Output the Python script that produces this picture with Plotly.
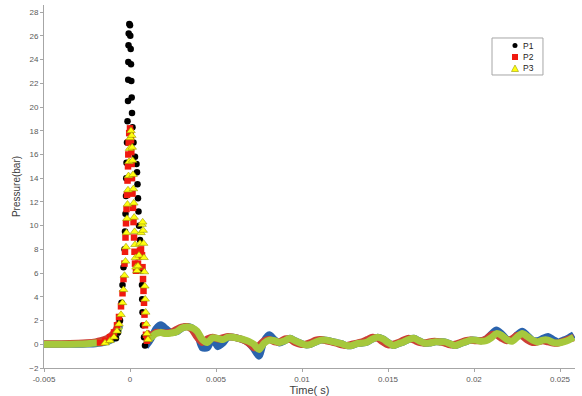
import numpy as np
import plotly.graph_objects as go

# ---------------- data (time in ms, pressure in bar) ----------------
pre_t_ms = [-5.0, -4.0, -3.0, -2.5, -2.0, -1.7, -1.4, -1.2, -1.0, -0.8, -0.6]
p1_pre = [0.0, 0.0, 0.0, 0.02, 0.05, 0.1, 0.2, 0.3, 0.45, 0.8, 1.6]
p2_pre = [0.05, 0.05, 0.08, 0.12, 0.2, 0.3, 0.45, 0.6, 0.85, 1.25, 2.0]
p3_pre = [0.0, 0.0, 0.02, 0.05, 0.1, 0.15, 0.25, 0.35, 0.55, 0.9, 1.5]

tail_t_ms = [1.2, 1.5, 1.8, 2.1, 2.4, 2.7, 3.0, 3.3, 3.6, 3.9,
             4.2, 4.5, 4.8, 5.1, 5.4, 5.7, 6.0, 6.3, 6.6, 6.9,
             7.2, 7.5, 7.8, 8.1, 8.4, 8.7, 9.0, 9.3, 9.6, 9.9,
             10.2, 10.5, 10.8, 11.1, 11.4, 11.7, 12.0, 12.3, 12.6, 12.9,
             13.2, 13.5, 13.8, 14.1, 14.4, 14.7, 15.0, 15.3, 15.6, 15.9,
             16.2, 16.5, 16.8, 17.1, 17.4, 17.7, 18.0, 18.3, 18.6, 18.9,
             19.2, 19.5, 19.8, 20.1, 20.4, 20.7, 21.0, 21.3, 21.6, 21.9,
             22.2, 22.5, 22.8, 23.1, 23.4, 23.7, 24.0, 24.3, 24.6, 24.9,
             25.2, 25.5, 25.8]

p1_tail = [0.4, 1.3, 1.65, 1.3, 1.0, 1.05, 1.35, 1.5, 1.4, 0.9,
           -0.3, -0.3, 0.5, -0.2, 0.1, 0.6, 0.6, 0.5, 0.35, 0.1,
           -0.4, -1.0, 0.3, 0.8, 0.4, 0.1, 0.3, 0.5, 0.3, 0.1,
           -0.05, 0.0, 0.2, 0.35, 0.35, 0.25, 0.15, 0.05, -0.1, -0.1,
           0.05, 0.1, 0.2, 0.45, 0.6, 0.45, 0.15, -0.1, 0.05, 0.2,
           0.4, 0.5, 0.3, 0.1, 0.1, 0.2, 0.2, 0.2, 0.05, -0.1,
           0.05, 0.2, 0.35, 0.35, 0.3, 0.45, 0.85, 1.2, 0.9, 0.45,
           0.35, 0.8, 1.1, 0.75, 0.35, 0.3, 0.5, 0.65, 0.4, 0.2,
           0.35, 0.55, 0.8]
p2_tail = [0.75, 1.0, 1.0, 0.95, 1.0, 1.25, 1.45, 1.5, 1.25, 0.6,
           0.15, 0.45, 0.6, 0.45, 0.55, 0.65, 0.6, 0.5, 0.35, 0.1,
           -0.3, -0.1, 0.3, 0.4, 0.2, 0.2, 0.45, 0.4, 0.15, 0.0,
           0.0, 0.15, 0.35, 0.4, 0.3, 0.2, 0.1, -0.05, -0.1, 0.0,
           0.1, 0.2, 0.4, 0.6, 0.5, 0.2, -0.05, 0.0, 0.15, 0.35,
           0.5, 0.35, 0.15, 0.1, 0.2, 0.25, 0.2, 0.1, -0.05, 0.0,
           0.15, 0.3, 0.35, 0.3, 0.3, 0.45, 0.8, 0.8, 0.5, 0.3,
           0.45, 0.75, 0.7, 0.35, 0.15, 0.2, 0.3, 0.2, 0.1, 0.1,
           0.25, 0.45, 0.55]
p3_tail = [0.55, 0.9, 1.0, 0.9, 0.95, 1.05, 1.35, 1.45, 1.4, 1.1,
           0.4, 0.15, 0.55, 0.5, 0.4, 0.6, 0.6, 0.5, 0.4, 0.25,
           0.0, -0.45, 0.1, 0.35, 0.3, 0.15, 0.3, 0.5, 0.3, 0.1,
           -0.05, 0.0, 0.2, 0.35, 0.35, 0.25, 0.15, 0.05, -0.1, -0.1,
           0.05, 0.1, 0.2, 0.45, 0.6, 0.45, 0.15, -0.1, 0.05, 0.2,
           0.4, 0.5, 0.3, 0.1, 0.1, 0.2, 0.2, 0.2, 0.05, -0.1,
           0.05, 0.2, 0.35, 0.35, 0.25, 0.3, 0.55, 0.9, 0.75, 0.4,
           0.25, 0.6, 0.9, 0.65, 0.35, 0.2, 0.35, 0.35, 0.15, 0.1,
           0.2, 0.35, 0.6]
# first tail sample of each series (just after the peak)
p1_tail_start = (0.9, -0.2)
p2_tail_start = (0.95, 1.0)
p3_tail_start = (1.05, 0.45)

# peak samples (markers)
p1_peak_t_ms = [-0.814, -0.698, -0.581, -0.494, -0.436, -0.378, -0.320, -0.291, -0.262, -0.233,
                -0.221, -0.203, -0.174, -0.145, -0.116, -0.105, -0.099, -0.087, -0.076, -0.041,
                0.0, 0.017, 0.041, 0.058, 0.076, 0.099, 0.116, 0.145, 0.203, 0.291,
                0.378, 0.407, 0.436, 0.465, 0.494, 0.523, 0.581, 0.640, 0.669, 0.698,
                0.709, 0.727, 0.756, 0.814, 0.872]
p1_peak = [0.5, 1.0, 2.0, 3.5, 5.0, 6.5, 8.0, 9.5, 11.0, 12.5,
           14.0, 15.3, 17.0, 18.8, 20.5, 22.3, 23.8, 25.2, 26.2, 27.0,
           26.9, 26.0, 24.9, 23.6, 22.2, 20.8, 19.5, 18.3, 17.0, 15.8,
           15.2, 14.5, 13.5, 12.3, 11.2, 10.0, 8.8, 7.5, 6.2, 5.0,
           3.8, 2.7, 1.6, 0.6, -0.1]

p2_peak_t_ms = [-1.744, -1.453, -1.163, -0.930, -0.756, -0.640, -0.523, -0.436, -0.378, -0.320,
                -0.291, -0.262, -0.233, -0.203, -0.174, -0.145, -0.116, -0.099, -0.076, -0.047,
                0.0, 0.041, 0.058, 0.076, 0.093, 0.116, 0.145, 0.174, 0.203, 0.233,
                0.262, 0.291, 0.349, 0.407, 0.465, 0.523, 0.581, 0.640, 0.698, 0.727,
                0.756, 0.785, 0.814, 0.843, 0.872, 0.930, 0.988]
p2_peak = [0.15, 0.3, 0.6, 1.0, 1.6, 2.3, 3.2, 4.3, 5.5, 6.8,
           7.8, 9.0, 10.2, 11.4, 12.6, 13.8, 15.0, 16.0, 17.0, 17.8,
           18.2, 17.9, 17.2, 16.2, 15.2, 14.0, 12.7, 11.5, 10.3, 9.0,
           7.8, 6.8, 6.2, 6.3, 6.8, 7.4, 7.9, 8.0, 7.5, 6.5,
           5.5, 4.5, 3.5, 2.5, 1.6, 0.8, 0.3]

p3_peak_t_ms = [-1.453, -1.163, -0.930, -0.756, -0.640, -0.523, -0.436, -0.378, -0.320, -0.262,
                -0.233, -0.203, -0.174, -0.145, -0.116, -0.087, -0.058, -0.029, 0.012, 0.058,
                0.105, 0.128, 0.151, 0.174, 0.198, 0.221, 0.244, 0.267, 0.291, 0.320,
                0.349, 0.407, 0.465, 0.523, 0.581, 0.640, 0.698, 0.738, 0.767, 0.791,
                0.814, 0.837, 0.860, 0.884, 0.913, 0.948, 0.988, 1.047]
p3_peak = [0.1, 0.3, 0.6, 1.1, 1.7, 2.5, 3.5, 4.6, 5.8, 7.0,
           8.2, 9.4, 10.6, 11.8, 13.0, 14.2, 15.4, 16.5, 17.4, 18.0,
           17.6, 16.6, 15.5, 14.3, 13.1, 11.9, 10.7, 9.5, 8.4, 7.3,
           6.5, 6.2, 6.6, 7.5, 8.5, 9.4, 10.1, 10.3, 9.6, 8.5,
           7.3, 6.1, 4.9, 3.8, 2.7, 1.7, 0.9, 0.4]

series_names = ["P1", "P2", "P3"]
x_tick_vals = [-0.005, 0, 0.005, 0.01, 0.015, 0.02, 0.025]
x_tick_text = ["-0.005", "0", "0.005", "0.01", "0.015", "0.02", "0.025"]
y_tick_vals = list(range(-2, 29, 2))

band_colors = ["#2a63ad", "#cc3f36", "#a6c83c"]
marker_colors = ["#000000", "#f01a10", "#ffff10"]
marker_symbols = ["circle", "square", "triangle-up"]


def sec(ms_list):
    return [v / 1000.0 for v in ms_list]


fig = go.Figure()

pre = [p1_pre, p2_pre, p3_pre]
tails = [p1_tail, p2_tail, p3_tail]
starts = [p1_tail_start, p2_tail_start, p3_tail_start]
peaks_t = [p1_peak_t_ms, p2_peak_t_ms, p3_peak_t_ms]
peaks = [p1_peak, p2_peak, p3_peak]

# thick dense bands
for i in range(3):
    fig.add_trace(go.Scatter(x=sec(pre_t_ms), y=pre[i], mode="lines",
                             line=dict(color=band_colors[i], width=7, shape="spline", smoothing=0.6),
                             showlegend=False, hoverinfo="skip"))
    tx = sec([starts[i][0]] + tail_t_ms)
    ty = [starts[i][1]] + tails[i]
    fig.add_trace(go.Scatter(x=tx, y=ty, mode="lines",
                             line=dict(color=band_colors[i], width=7, shape="spline", smoothing=0.7),
                             showlegend=False, hoverinfo="skip"))

# peak markers
for i in range(3):
    fig.add_trace(go.Scatter(
        x=sec(peaks_t[i]), y=peaks[i], mode="markers", name=series_names[i],
        marker=dict(color=marker_colors[i], symbol=marker_symbols[i],
                    size=6.5 if i < 2 else 7.5,
                    line=dict(color="#9a9a00", width=0.6) if i == 2 else dict(width=0)),
        showlegend=False,
    ))

# ---- compact legend (box, keys and labels) ----
L_X0, L_X1, L_Y0, L_Y1 = 0.8437, 0.9397, 0.8072, 0.9091
key_x = 0.887
text_x = 0.8983
row_y = [0.8884, 0.8567, 0.8251]

shapes = [dict(type="rect", xref="paper", yref="paper", x0=L_X0, x1=L_X1, y0=L_Y0, y1=L_Y1,
               line=dict(color="#a6a6a6", width=1), fillcolor="white", layer="above")]
# P1 key: circle
shapes.append(dict(type="circle", xref="paper", yref="paper", xsizemode="pixel", ysizemode="pixel",
                   xanchor=key_x, yanchor=row_y[0], x0=-2.5, x1=2.5, y0=-2.5, y1=2.5,
                   fillcolor=marker_colors[0], line=dict(width=0), layer="above"))
# P2 key: square
shapes.append(dict(type="rect", xref="paper", yref="paper", xsizemode="pixel", ysizemode="pixel",
                   xanchor=key_x, yanchor=row_y[1], x0=-3, x1=3, y0=-3, y1=3,
                   fillcolor=marker_colors[1], line=dict(width=0), layer="above"))
# P3 key: triangle
shapes.append(dict(type="path", xref="paper", yref="paper", xsizemode="pixel", ysizemode="pixel",
                   xanchor=key_x, yanchor=row_y[2], path="M -3.5 -3 L 3.5 -3 L 0 3.5 Z",
                   fillcolor=marker_colors[2], line=dict(color="#9a9a00", width=0.6), layer="above"))

annotations = [dict(xref="paper", yref="paper", x=text_x, y=row_y[i], text=series_names[i],
                    showarrow=False, xanchor="left", yanchor="middle",
                    font=dict(size=8.5, color="#222222")) for i in range(3)]

axis_font = dict(family="Liberation Sans, Arial, sans-serif", size=8, color="#595959")

fig.update_layout(
    width=582, height=396,
    margin=dict(l=44, r=7, t=5, b=28),
    paper_bgcolor="white", plot_bgcolor="white",
    font=dict(family="Liberation Sans, Arial, sans-serif", color="#404040"),
    xaxis=dict(range=[-0.005, 0.02587], tickvals=x_tick_vals, ticktext=x_tick_text,
               showgrid=False, zeroline=False, showline=True, linecolor="#a6a6a6", linewidth=1,
               ticks="outside", ticklen=3, tickcolor="#a6a6a6", tickfont=axis_font,
               automargin=False,
               title=dict(text="Time( s)", font=dict(size=11, color="#404040"), standoff=0)),
    yaxis=dict(range=[-2, 28.6], tickvals=y_tick_vals,
               showgrid=False, zeroline=False, showline=True, linecolor="#a6a6a6", linewidth=1,
               ticks="outside", ticklen=3, tickcolor="#a6a6a6", tickfont=axis_font,
               automargin=False,
               title=dict(text="Pressure(bar)", font=dict(size=10, color="#404040"), standoff=6)),
    shapes=shapes,
    annotations=annotations,
    showlegend=False,
)

fig.write_html("out.html", config={"displayModeBar": False},
               post_script="document.body.style.margin='0';document.body.style.overflow='hidden';")
